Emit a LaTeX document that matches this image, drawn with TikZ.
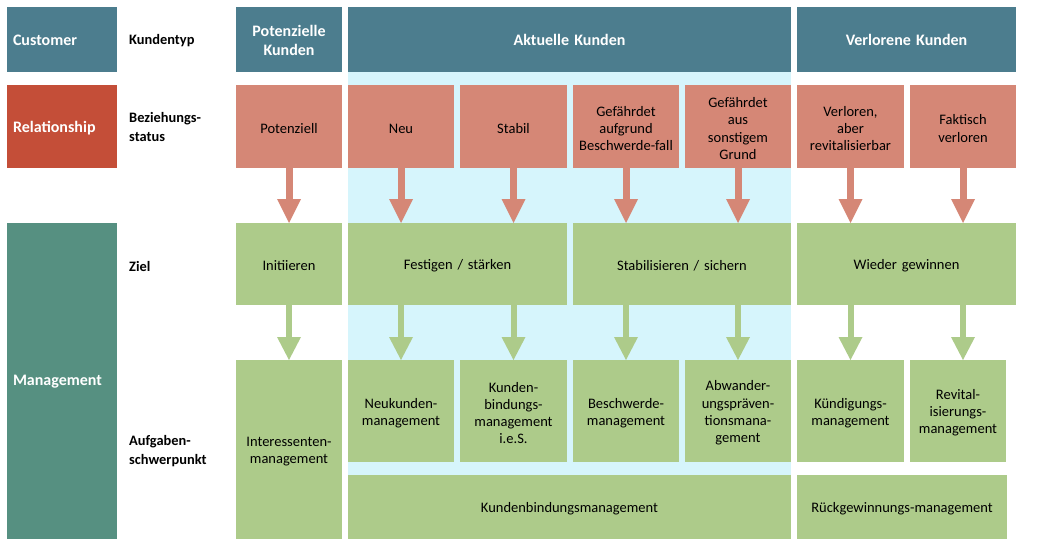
\documentclass[tikz,border=0pt]{standalone}
\usepackage{fontspec}
\setmainfont{Carlito}
\usetikzlibrary{arrows.meta}
\definecolor{hdr}{RGB}{76,125,142}
\definecolor{rel}{RGB}{196,78,56}
\definecolor{stat}{RGB}{213,135,118}
\definecolor{grn}{RGB}{173,203,138}
\definecolor{mgmt}{RGB}{86,144,129}
\definecolor{lblue}{RGB}{214,245,252}
\tikzset{
  box/.style={anchor=north west, inner sep=0pt, outer sep=0pt},
  btext/.style={inner sep=0pt, align=center, font=\fontsize{14.5}{17.2}\selectfont},
  hdrbox/.style={box, fill=hdr},
  hdrtext/.style={btext, text=white, font=\fontsize{16}{19}\selectfont\bfseries, yshift=-0.5pt},
  statbox/.style={box, fill=stat},
  stattext/.style={btext, text=black, yshift=-2pt},
  grnbox/.style={box, fill=grn},
  grntext/.style={btext, text=black, yshift=-2pt},
  sidebox/.style={anchor=north west, inner sep=0pt, outer sep=0pt, text=white,
    font=\fontsize{16}{19}\selectfont\bfseries},
  lbl/.style={anchor=west, inner sep=0pt, align=left, font=\fontsize{14.4}{19}\selectfont\bfseries},
  sarrow/.style={draw=stat, line width=7pt, -{Triangle[width=24pt,length=24pt,line width=0pt]}},
  garrow/.style={draw=grn, line width=6pt, -{Triangle[width=24pt,length=23pt,line width=0pt]}},
}
\newcommand{\bx}[8]{% box style, text style, name, x1, y1, x2, y2, text
  \node[#1, minimum width=#6pt-#4pt, minimum height=#7pt-#5pt] (#3) at (#4,#5) {};
  \node[#2, text width=#6pt-#4pt-4pt] (#3-t) at (#3.center) {#8};}
\begin{document}
\begin{tikzpicture}[x=1pt,y=-1pt]
\useasboundingbox (0,0) rectangle (1052,546);
\fill[lblue] (348,72) rectangle (791,539);
% left column
\fill[hdr] (7,7) rectangle (117,72);
\fill[rel] (7,85) rectangle (117,168);
\fill[mgmt] (7,223) rectangle (117,539);
\node[sidebox, anchor=west] (cust) at (13,40) {Customer};
\node[sidebox, anchor=west] (relt) at (13,128) {Relationship};
\node[sidebox, anchor=west] (mgt) at (13,382) {Management};
% labels
\node[lbl] (l1) at (129,41) {Kundentyp};
\node[lbl] (l2) at (129,127) {Beziehungs-\\status};
\node[lbl] (l3) at (129,266) {Ziel};
\node[lbl] (l4) at (129,451) {Aufgaben-\\schwerpunkt};
% headers
\bx{hdrbox}{hdrtext}{h1}{236}{7}{342}{72}{Potenzielle\\Kunden}
\bx{hdrbox}{hdrtext}{h2}{348}{7}{791}{72}{Aktuelle Kunden}
\bx{hdrbox}{hdrtext}{h3}{797}{7}{1016}{72}{Verlorene Kunden}
% status
\bx{statbox}{stattext}{s1}{236}{85}{342}{168}{Potenziell}
\bx{statbox}{stattext}{s2}{348}{85}{454}{168}{Neu}
\bx{statbox}{stattext}{s3}{460}{85}{567}{168}{Stabil}
\bx{statbox}{stattext}{s4}{573}{85}{679}{168}{Gefährdet\\aufgrund\\Beschwerde-fall}
\bx{statbox}{stattext}{s5}{685}{85}{791}{168}{Gefährdet\\aus\\sonstigem\\Grund}
\bx{statbox}{stattext}{s6}{797}{85}{904}{168}{Verloren,\\aber\\revitalisierbar}
\bx{statbox}{stattext}{s7}{910}{85}{1016}{168}{Faktisch\\verloren}
% ziel
\bx{grnbox}{grntext}{z1}{236}{223}{342}{305}{Initiieren}
\bx{grnbox}{grntext}{z2}{348}{223}{567}{305}{Festigen / stärken}
\bx{grnbox}{grntext}{z3}{573}{223}{791}{305}{Stabilisieren / sichern}
\bx{grnbox}{grntext}{z4}{797}{223}{1016}{305}{Wieder gewinnen}
% tasks
\bx{grnbox}{grntext}{t1}{236}{360}{342}{539}{Interessenten-\\management}
\bx{grnbox}{grntext}{t2}{348}{360}{454}{462}{Neukunden-\\management}
\bx{grnbox}{grntext}{t3}{460}{360}{567}{462}{Kunden-\\bindungs-\\management\\i.e.S.}
\bx{grnbox}{grntext}{t4}{573}{360}{679}{462}{Beschwerde-\\management}
\bx{grnbox}{grntext}{t5}{685}{360}{791}{462}{Abwander-\\ungspräven-\\tionsmana-\\gement}
\bx{grnbox}{grntext}{t6}{797}{360}{904}{462}{Kündigungs-\\management}
\bx{grnbox}{grntext}{t7}{910}{360}{1006}{462}{Revital-\\isierungs-\\management}
\bx{grnbox}{grntext}{b1}{348}{475}{791}{539}{Kundenbindungsmanagement}
\bx{grnbox}{grntext}{b2}{797}{475}{1007}{539}{Rückgewinnungs-management}
% arrows status -> ziel
\draw[sarrow] (s1.south) -- (s1.south |- z1.north);
\draw[sarrow] (s2.south) -- (s2.south |- z2.north);
\draw[sarrow] (s3.south) -- (s3.south |- z2.north);
\draw[sarrow] (s4.south) -- (s4.south |- z3.north);
\draw[sarrow] (s5.south) -- (s5.south |- z3.north);
\draw[sarrow] (s6.south) -- (s6.south |- z4.north);
\draw[sarrow] (s7.south) -- (s7.south |- z4.north);
% arrows ziel -> tasks
\draw[garrow] (z1.south -| t1.north) -- (t1.north);
\draw[garrow] (z2.south -| t2.north) -- (t2.north);
\draw[garrow] (z2.south -| t3.north) -- (t3.north);
\draw[garrow] (z3.south -| t4.north) -- (t4.north);
\draw[garrow] (z3.south -| t5.north) -- (t5.north);
\draw[garrow] (z4.south -| s6.south) -- (s6.south |- t6.north);
\draw[garrow] (z4.south -| s7.south) -- (s7.south |- t7.north);
\end{tikzpicture}
\end{document}
